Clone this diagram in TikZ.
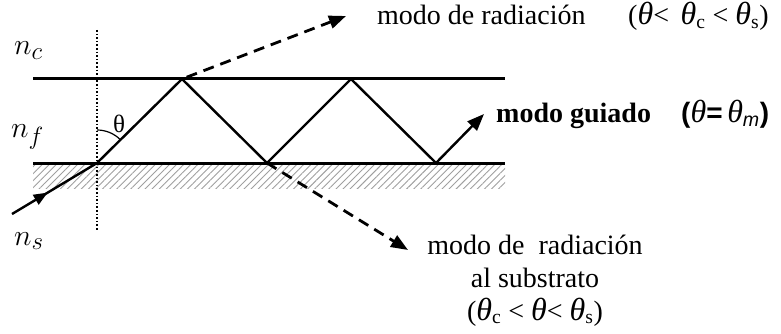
\documentclass[tikz,border=0pt]{standalone}
\usepackage{fontspec}
\setmainfont{Liberation Serif}
\newfontfamily\lsans{Liberation Sans}
\newcommand\thetaI{{\fontsize{32}{33}\selectfont\itshape θ}}
\usetikzlibrary{arrows.meta,patterns.meta,decorations.markings}
\begin{document}
\begin{tikzpicture}[x=1pt,y=-1pt,
  iface/.style={line width=3pt},
  ray/.style={line width=2.4pt},
  dray/.style={line width=2.8pt,dash pattern=on 11pt off 7pt},
  tip/.style={-{Triangle[length=17pt,width=13pt]}},
  lbl/.style={inner sep=0pt,font=\fontsize{28}{33}\selectfont},
  idx/.style={inner sep=0pt,font=\Huge,scale=1.2}]
\useasboundingbox (0,0) rectangle (781,334);
% substrate hatch
\fill[pattern={Lines[angle=45,distance=5pt,line width=0.9pt]},pattern color=gray!75]
  (33,163) rectangle (505,188);
% interfaces
\coordinate (tl) at (33,79);  \coordinate (tr) at (505,79);
\coordinate (bl) at (33,163); \coordinate (br) at (505,163);
\draw[iface] (tl) -- (tr);
\draw[iface] (bl) -- (br);
% normal
\coordinate (nt) at (97,30); \coordinate (nb) at (97,230);
\draw[line width=1.6pt,dash pattern=on 1.6pt off 2pt] (nt) -- (nb);
% zigzag
\coordinate (p0) at (97,163);
\coordinate (p1) at (182,79);
\coordinate (p2) at (267,163);
\coordinate (p3) at (351,79);
\coordinate (p4) at (436,163);
\coordinate (g) at (484,114);
\coordinate (in) at (12,214);
\draw[ray] (p0) -- (p1) -- (p2) -- (p3) -- (p4);
\draw[ray,tip] (p4) -- (g);
\draw[ray,decoration={markings,mark=at position 0.42 with {\arrow{Triangle[length=14pt,width=11pt]}}},postaction=decorate] (in) -- (p0);
% radiation modes
\coordinate (rt) at (346,16);
\coordinate (rb) at (408,250);
\draw[dray,tip,shorten <=5pt] (p1) -- (rt);
\draw[dray,tip] (p2) -- (rb);
% angle
\draw[line width=1.2pt] (97,130) arc[start angle=-90,end angle=-45,radius=33];
\node[inner sep=0pt,anchor=base,font=\fontsize{25}{30}\selectfont] (th) at (119,132) {θ};
% indices
\node[idx,anchor=base west] (nc) at (14,55) {$n_c$};
\node[idx,anchor=base west] (nf) at (11,138) {$n_f$};
\node[idx,anchor=base west] (ns) at (14,245) {$n_s$};
% labels
\node[lbl,anchor=base west] (rad) at (377,25) {modo de radiación};
\node[lbl,anchor=base west] (radc) at (628,25) {(\thetaI<\ \,\thetaI\textsubscript{c} <\ \thetaI\textsubscript{s})};
\node[lbl,anchor=base west,font=\fontsize{28}{32}\selectfont\bfseries] (gui) at (496,123) {modo guiado};
\node[lbl,anchor=base west] (guic) at (681,123) {{\lsans\bfseries(}\thetaI{\lsans\bfseries=}\,\thetaI\textsubscript{\lsans\itshape m}{\lsans\bfseries)}};
\node[lbl,anchor=base,align=center] (sub) at (535,320) {modo de\ \ radiación\\al substrato\\(\thetaI\textsubscript{c} < \thetaI< \thetaI\textsubscript{s})};
\end{tikzpicture}
\end{document}
